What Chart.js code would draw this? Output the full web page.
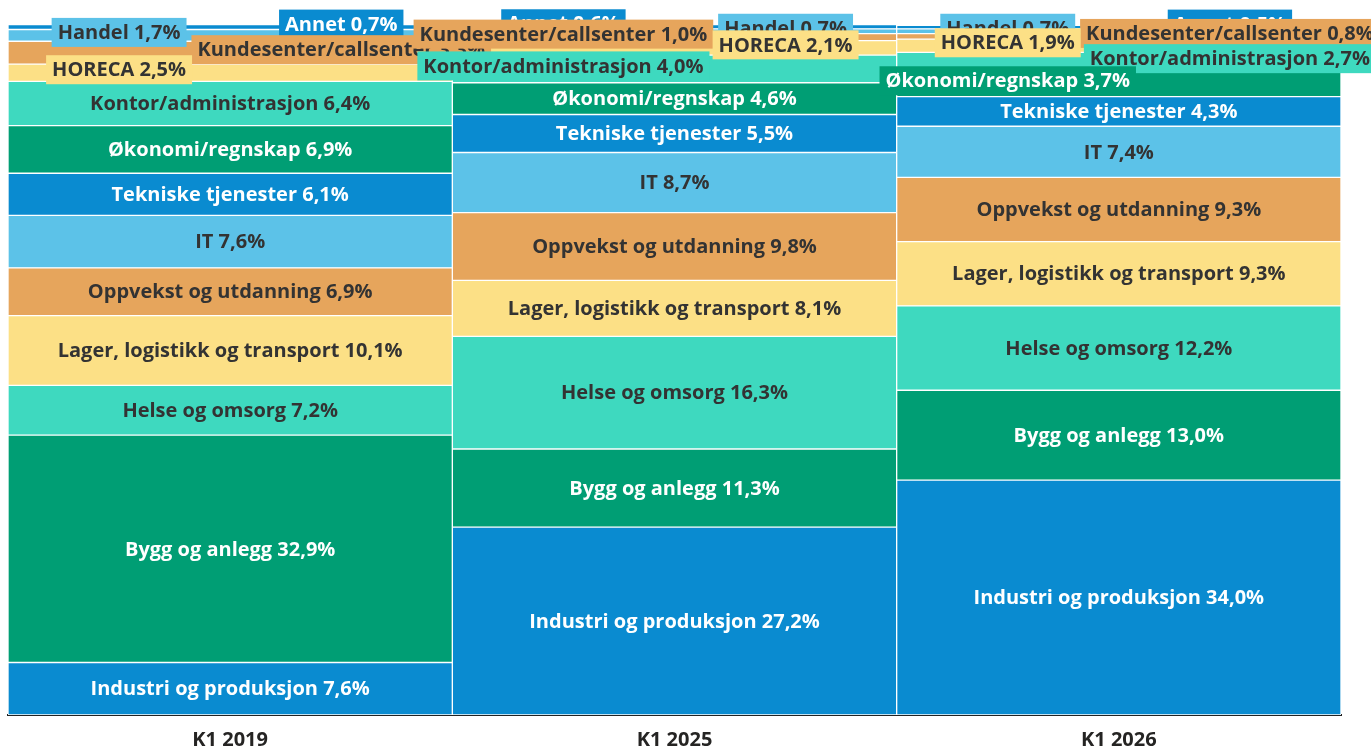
<!DOCTYPE html>
<html lang="no">
<head>
<meta charset="UTF-8">
<title>Yrkesgrupper</title>
<script src="https://cdn.jsdelivr.net/npm/chart.js"></script>
<style>
  body { margin: 0; background: #fff; }
  #wrap { width: 1371px; height: 750px; }
</style>
</head>
<body>
<div id="wrap"><canvas id="myChart" width="1371" height="750"></canvas></div>
<script>
// data, nederst i stabelen forst
const kvartal = ['K1 2019', 'K1 2025', 'K1 2026'];
const grupper = ['Industri og produksjon', 'Bygg og anlegg', 'Helse og omsorg',
  'Lager, logistikk og transport', 'Oppvekst og utdanning', 'IT', 'Tekniske tjenester',
  'Økonomi/regnskap', 'Kontor/administrasjon', 'HORECA', 'Kundesenter/callsenter',
  'Handel', 'Annet'];
const industri = [7.6, 27.2, 34.0];
const bygg = [32.9, 11.3, 13.0];
const helse = [7.2, 16.3, 12.2];
const lager = [10.1, 8.1, 9.3];
const oppvekst = [6.9, 9.8, 9.3];
const it = [7.6, 8.7, 7.4];
const tekniske = [6.1, 5.5, 4.3];
const okonomi = [6.9, 4.6, 3.7];
const kontor = [6.4, 4.0, 2.7];
const horeca = [2.5, 2.1, 1.9];
const kundesenter = [3.3, 1.0, 0.8];
const handel = [1.7, 0.7, 0.7];
const annet = [0.7, 0.6, 0.5];

const verdier = [industri, bygg, helse, lager, oppvekst, it, tekniske,
  okonomi, kontor, horeca, kundesenter, handel, annet];

// fargene gaar i ring
const farger = ['#0A8BD0', '#009E74', '#3ED9BF', '#FCE086', '#E6A55C', '#5CC2E8'];
const tekstfarger = ['#ffffff', '#ffffff', '#333333', '#333333', '#333333', '#333333'];

const fmt = v => v.toFixed(1).replace('.', ',') + '%';
const FONT = 'bold 20px "Open Sans"';

const etiketter = {
  id: 'etiketter',
  afterDatasetsDraw(chart) {
    const ctx = chart.ctx;
    ctx.save();
    ctx.font = FONT;
    ctx.textAlign = 'center';
    ctx.textBaseline = 'middle';
    const n = chart.data.datasets.length;
    const bokser = [];
    kvartal.forEach((k, i) => {
      const sma = [];
      for (let d = 0; d < n; d++) {
        const bar = chart.getDatasetMeta(d).data[i];
        const ds = chart.data.datasets[d];
        const tekst = ds.label + ' ' + fmt(ds.data[i]);
        const h = bar.base - bar.y;
        const midt = (bar.base + bar.y) / 2;
        if (h >= 29) {
          ctx.fillStyle = tekstfarger[d % 6];
          ctx.fillText(tekst, bar.x, midt + 1);
        } else {
          sma.push({ tekst, bar, midt, d });
        }
      }
      // nederste lille etikett til venstre, saa annenhver
      sma.forEach((s, j) => { s.side = j % 2 === 0 ? -1 : 1; });
      sma.reverse().forEach(s => bokser.push(s));
    });
    bokser.forEach(s => {
      const w = ctx.measureText(s.tekst).width + 12;
      const cx = s.bar.x + s.side * s.bar.width / 4;
      const cy = s.midt - 3;
      ctx.fillStyle = farger[s.d % 6];
      ctx.fillRect(cx - w / 2, cy - 14.5, w, 29);
      ctx.fillStyle = tekstfarger[s.d % 6];
      ctx.fillText(s.tekst, cx, cy + 1);
    });
    ctx.restore();
  }
};

const datasets = grupper.map((navn, d) => ({
  label: navn,
  data: verdier[d],
  backgroundColor: farger[d % 6],
  borderColor: '#ffffff',
  borderWidth: 1,
  borderSkipped: false,
  barPercentage: 1,
  categoryPercentage: 1
}));

const myChart = new Chart(document.getElementById('myChart'), {
  type: 'bar',
  data: { labels: kvartal, datasets: datasets },
  options: {
    responsive: false,
    animation: false,
    layout: { padding: { left: 8, right: 30, top: 24, bottom: -7 } },
    plugins: { legend: { display: false }, tooltip: { enabled: false } },
    scales: {
      x: {
        stacked: true,
        grid: { display: false },
        border: { display: true, color: '#222222', width: 2 },
        ticks: { color: '#252423', padding: 5, font: { family: 'Open Sans', size: 20, weight: 'bold' } }
      },
      y: {
        stacked: true,
        display: false,
        min: 0,
        max: 100
      }
    }
  },
  plugins: [etiketter]
});
</script>
</body>
</html>
